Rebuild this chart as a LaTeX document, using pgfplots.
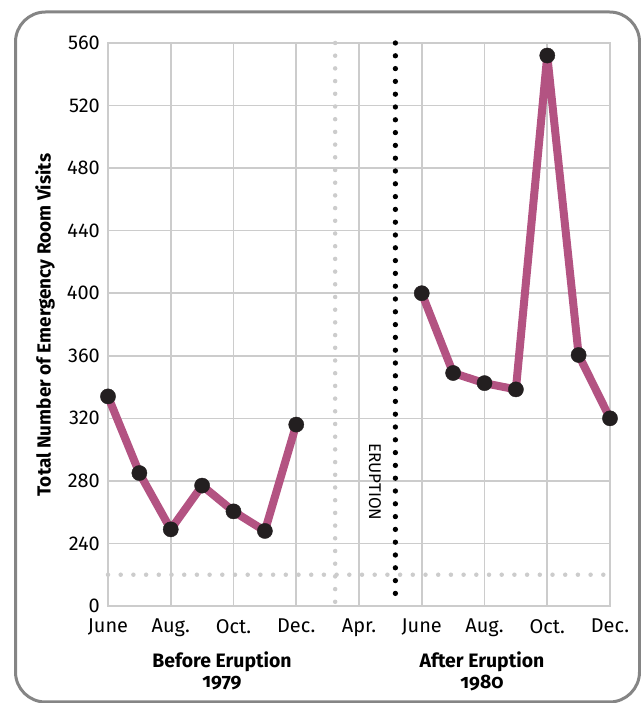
\documentclass[border=0pt]{standalone}
\usepackage{pgfplots}
\pgfplotsset{compat=1.18}
\usepackage{fontspec}
\setmainfont{Fira Sans}
\definecolor{gridc}{HTML}{CCCCCC}
\definecolor{purp}{HTML}{B35382}
\definecolor{dotc}{HTML}{231F20}
\definecolor{framec}{HTML}{858585}
\begin{document}
\begin{tikzpicture}
\useasboundingbox (0,0) rectangle (641bp,703bp);
\begin{scope}
\clip (0,0) rectangle (641bp,703bp);
\draw[framec, line width=3bp, rounded corners=30bp] (15.5bp,1bp) rectangle (639.5bp,691bp);
\end{scope}
\begin{axis}[
 at={(108bp,97bp)}, anchor=south west,
 scale only axis, width=502bp, height=563bp,
 xmin=0, xmax=8, ymin=200, ymax=560,
 xtick={0,...,8}, xticklabels={June,Aug.,Oct.,Dec.,Apr.,June,Aug.,Oct.,Dec.},
 ytick={200,240,...,560}, yticklabels={0,240,280,320,360,400,440,480,520,560},
 grid=major, grid style={gridc, line width=1.6bp},
 axis line style={gridc, line width=1.6bp},
 major tick length=0pt,
 tick label style={font=\fontsize{20}{22}\selectfont},
 yticklabel style={inner sep=0pt, xshift=-8bp},
 xticklabel style={inner sep=0pt, yshift=-13bp},
 clip=false,
]
\addplot[gridc, line width=4.5bp, line cap=round, dash pattern=on 0pt off 12.7bp] coordinates {(0,220) (8,220)};
\addplot[gridc, line width=4.5bp, line cap=round, dash pattern=on 0pt off 12.7bp] coordinates {(3.62,560) (3.62,200)};
\addplot[black, line width=5.3bp, line cap=round, dash pattern=on 0pt off 12.8bp] coordinates {(4.58,560) (4.58,200)};
\addplot[purp, line width=8bp, line join=round, mark=*, mark size=7.6bp, mark options={fill=dotc, draw=dotc, line width=0.4bp}] coordinates {
(0,334) (0.5,285) (1,249) (1.5,277) (2,260.5) (2.5,248) (3,316)};
\addplot[purp, line width=8bp, line join=round, mark=*, mark size=7.6bp, mark options={fill=dotc, draw=dotc, line width=0.4bp}] coordinates {
(5,400) (5.5,349) (6,342.5) (6.5,338.5) (7,552) (7.5,360.5) (8,320)};
\end{axis}
\node[rotate=90, font=\bfseries\fontsize{19}{21}\selectfont] at (45bp,378bp) {Total Number of Emergency Room Visits};
\node[rotate=-90, font=\fontsize{17}{19}\selectfont] at (375bp,221bp) {ERUPTION};
\node[font=\bfseries\fontsize{19.5}{21}\selectfont] at (222bp,41bp) {Before Eruption};
\node[font=\bfseries\fontsize{19.5}{21}\selectfont] at (222bp,20bp) {\addfontfeatures{Numbers=OldStyle}1979};
\node[font=\bfseries\fontsize{19.5}{21}\selectfont] at (482bp,41bp) {After Eruption};
\node[font=\bfseries\fontsize{19.5}{21}\selectfont] at (482bp,20bp) {\addfontfeatures{Numbers=OldStyle}1980};
\end{tikzpicture}
\end{document}
